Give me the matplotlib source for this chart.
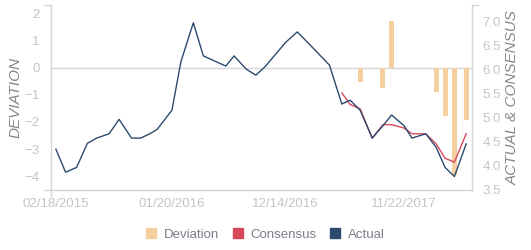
import numpy as np
import pandas as pd
import matplotlib
matplotlib.use("Agg")
import matplotlib.pyplot as plt
import matplotlib.dates as mdates

# ── data ─────────────────────────────────────────────────────────────
dates = [
    "2015-02-18", "2015-03-18", "2015-04-19", "2015-05-20", "2015-06-16",
    "2015-07-22", "2015-08-20", "2015-09-25", "2015-10-21", "2015-11-17",
    "2015-12-08", "2016-01-20", "2016-02-15", "2016-03-22", "2016-04-20",
    "2016-06-24", "2016-07-18", "2016-08-23", "2016-09-19", "2016-10-15",
    "2016-11-11", "2016-12-14", "2017-01-17", "2017-02-23", "2017-04-20",
    "2017-05-26", "2017-06-19", "2017-07-18", "2017-08-22", "2017-09-22",
    "2017-10-17", "2017-11-22", "2017-12-15", "2018-01-24", "2018-02-23",
    "2018-03-21", "2018-04-17", "2018-05-21",
]
actual = [
    4.35, 3.87, 3.97, 4.47, 4.58, 4.67, 4.97, 4.58, 4.58, 4.67,
    4.76, 5.16, 6.17, 6.98, 6.29, 6.08, 6.29, 6.01, 5.89, 6.06,
    6.29, 6.57, 6.79, 6.52, 6.10, 5.29, 5.37, 5.16, 4.58, 4.84,
    5.06, 4.84, 4.58, 4.67, 4.39, 3.97, 3.78, 4.46,
]
consensus = [None] * 25 + [
    5.52, 5.28, 5.19, 4.58, 4.86, 4.86, 4.79, 4.67, 4.67, 4.46,
    4.16, 4.08, 4.67,
]
deviation = [None] * 27 + [
    -0.53, None, -0.74, 1.71, None, None, None, -0.90, -1.78, -3.96, -1.94,
]
tick_dates = ["2015-02-18", "2016-01-20", "2016-12-14", "2017-11-22"]

ORANGE = "#F5CFA0"
RED = "#D9485B"
NAVY = "#2D4A6E"
GRID = "#d6d6d6"
TICK_TXT = "#c4c4c4"
LABEL_TXT = "#888888"
LEGEND_TXT = "#7a7d8c"


def main() -> None:
    plt.rcParams["font.family"] = ["Liberation Sans", "DejaVu Sans"]

    x = pd.to_datetime(dates)
    act = np.array(actual, dtype=float)
    cons = np.array([np.nan if v is None else v for v in consensus])
    dev = np.array([np.nan if v is None else v for v in deviation])

    fig = plt.figure(figsize=(5.31, 2.5), dpi=100)
    ax = fig.add_axes([0.0955, 0.24, 0.7928, 0.74])
    ax2 = ax.twinx()

    # deviation bars on the left axis
    mask = ~np.isnan(dev)
    ax.bar(x[mask], dev[mask], width=14.5, color=ORANGE, zorder=2,
           label="Deviation")
    ax.axhline(0, color=GRID, lw=1.0, zorder=1)

    # actual & consensus on the right axis
    ax2.plot(x, cons, color=RED, lw=1.0, label="Consensus", zorder=3)
    ax2.plot(x, act, color=NAVY, lw=1.0, label="Actual", zorder=4)

    xmin, xmax = pd.Timestamp("2015-02-03"), pd.Timestamp("2018-06-06")
    ax.set_xlim(xmin, xmax)
    ax.set_ylim(-4.5, 2.3)
    ax2.set_ylim(3.5, 7.35)

    # axes styling
    for a in (ax, ax2):
        a.spines["top"].set_visible(False)
        for side in ("left", "right", "bottom"):
            a.spines[side].set_color(GRID)
            a.spines[side].set_linewidth(1.0)
    ax.spines["right"].set_visible(False)
    ax2.spines["left"].set_visible(False)
    ax2.spines["bottom"].set_visible(False)

    ax.set_yticks([-4, -3, -2, -1, 0, 1, 2])
    ax.tick_params(axis="y", length=0, pad=8, labelsize=9.5,
                   labelcolor=TICK_TXT)
    # small end marks at the top and bottom of each vertical axis
    ax.set_yticks([-4.5, 2.3], minor=True)
    ax.tick_params(axis="y", which="minor", length=5, width=1.0,
                   color=GRID)
    ax2.set_yticks([3.5, 4.0, 4.5, 5.0, 5.5, 6.0, 6.5, 7.0])
    ax2.set_yticklabels([f"{v:.1f}" for v in ax2.get_yticks()])
    ax2.tick_params(axis="y", length=0, pad=8, labelsize=9.5,
                    labelcolor=TICK_TXT)
    ax2.set_yticks([3.5, 7.35], minor=True)
    ax2.tick_params(axis="y", which="minor", length=5, width=1.0,
                    color=GRID)

    ax.set_xticks(pd.to_datetime(tick_dates))
    ax.xaxis.set_major_formatter(mdates.DateFormatter("%m/%d/%Y"))
    ax.tick_params(axis="x", length=0, pad=6, labelsize=9.5,
                   labelcolor=TICK_TXT)
    ax.set_xticks([xmin], minor=True)
    ax.tick_params(axis="x", which="minor", length=5, width=1.0,
                   color=GRID)

    ax.set_ylabel("DEVIATION", fontsize=11, style="italic",
                  color=LABEL_TXT, labelpad=1)
    ax2.set_ylabel("ACTUAL & CONSENSUS", fontsize=11, style="italic",
                   color=LABEL_TXT, labelpad=3)

    # legend below the plot
    handles = [
        plt.Rectangle((0, 0), 1, 1, color=ORANGE),
        plt.Rectangle((0, 0), 1, 1, color=RED),
        plt.Rectangle((0, 0), 1, 1, color=NAVY),
    ]
    fig.legend(handles, ["Deviation", "Consensus", "Actual"],
               loc="center", bbox_to_anchor=(0.5, 0.062), ncol=3,
               frameon=False, fontsize=9.5, labelcolor=LEGEND_TXT,
               handlelength=0.75, handleheight=0.75, handletextpad=0.6,
               columnspacing=1.0)

    fig.savefig("out.png", dpi=100)


if __name__ == "__main__":
    main()
